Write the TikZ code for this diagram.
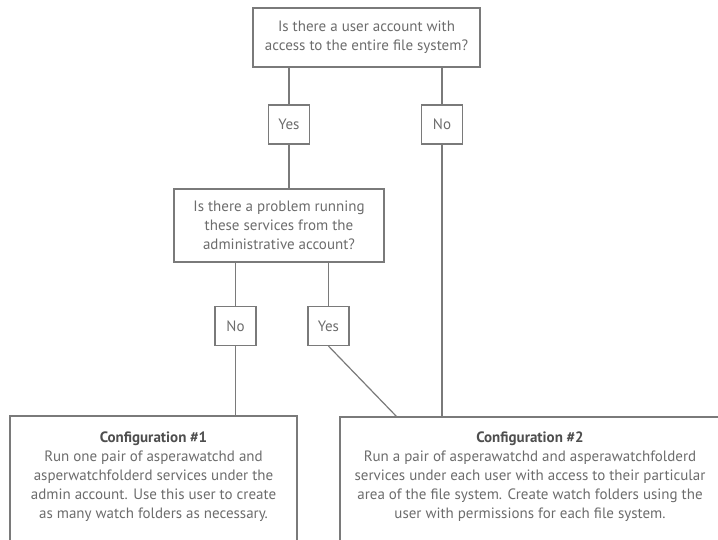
\documentclass[tikz,border=0pt]{standalone}
\usepackage{fontspec}
\setmainfont{PT Sans}
\definecolor{ln}{HTML}{7A7A7A}
\definecolor{tx}{HTML}{6C6C6C}
\definecolor{tt}{HTML}{4E4E4E}
\begin{document}
\begin{tikzpicture}[x=1pt,y=-1pt,
  box/.style={draw=ln, line width=1.2pt, inner sep=0pt, text=tx,
    font=\fontsize{15}{19}\selectfont, align=center},
  lab/.style={box, minimum width=41pt, minimum height=39pt},
  txt/.style={inner sep=0pt, text=tx, font=\fontsize{15}{19}\selectfont, align=center},
  conn/.style={draw=ln, line width=1.2pt}]
\useasboundingbox (0,0) rectangle (718,540);
\clip (0,0) rectangle (718,540);
\node[box, minimum width=227pt, minimum height=59pt] (q1) at (366.5,37.5)
  {Is there a user account with\\access to the entire file system?};
\node[lab] (yes1) at (289,124.5) {Yes};
\node[lab] (no1) at (442,124.5) {No};
\node[box, minimum width=210pt, minimum height=73pt] (q2) at (279,225.5)
  {Is there a problem running\\these services from the\\administrative account?};
\node[lab] (no2) at (235.5,326) {No};
\node[lab] (yes2) at (328.5,326) {Yes};
\node[box, minimum width=287pt, minimum height=200pt] (b1) at (153.5,516) {};
\node[txt] (t1) at (153.5,477)
  {{\color{tt}\bfseries Configuration \#1}\\Run one pair of asperawatchd and\\asperwatchfolderd services under the\\admin account. Use this user to create\\as many watch folders as necessary.};
\node[box, minimum width=382pt, minimum height=200pt] (b2) at (531,517) {};
\node[txt] (t2) at (530,477)
  {{\color{tt}\bfseries Configuration \#2}\\Run a pair of asperawatchd and asperawatchfolderd\\services under each user with access to their particular\\area of the file system. Create watch folders using the\\user with permissions for each file system.};
\coordinate (d2) at (397,417);
\draw[conn] (q1.south -| yes1.north) -- (yes1.north);
\draw[conn] (yes1.south) -- (q2.north -| yes1.south);
\draw[conn] (q1.south -| no1.north) -- (no1.north);
\draw[conn] (no1.south) -- (b2.north -| no1.south);
\draw[conn] (q2.south -| no2.north) -- (no2.north);
\draw[conn] (no2.south) -- (b1.north -| no2.south);
\draw[conn] (q2.south -| yes2.north) -- (yes2.north);
\draw[conn] (yes2.south) -- (d2);
\end{tikzpicture}
\end{document}
